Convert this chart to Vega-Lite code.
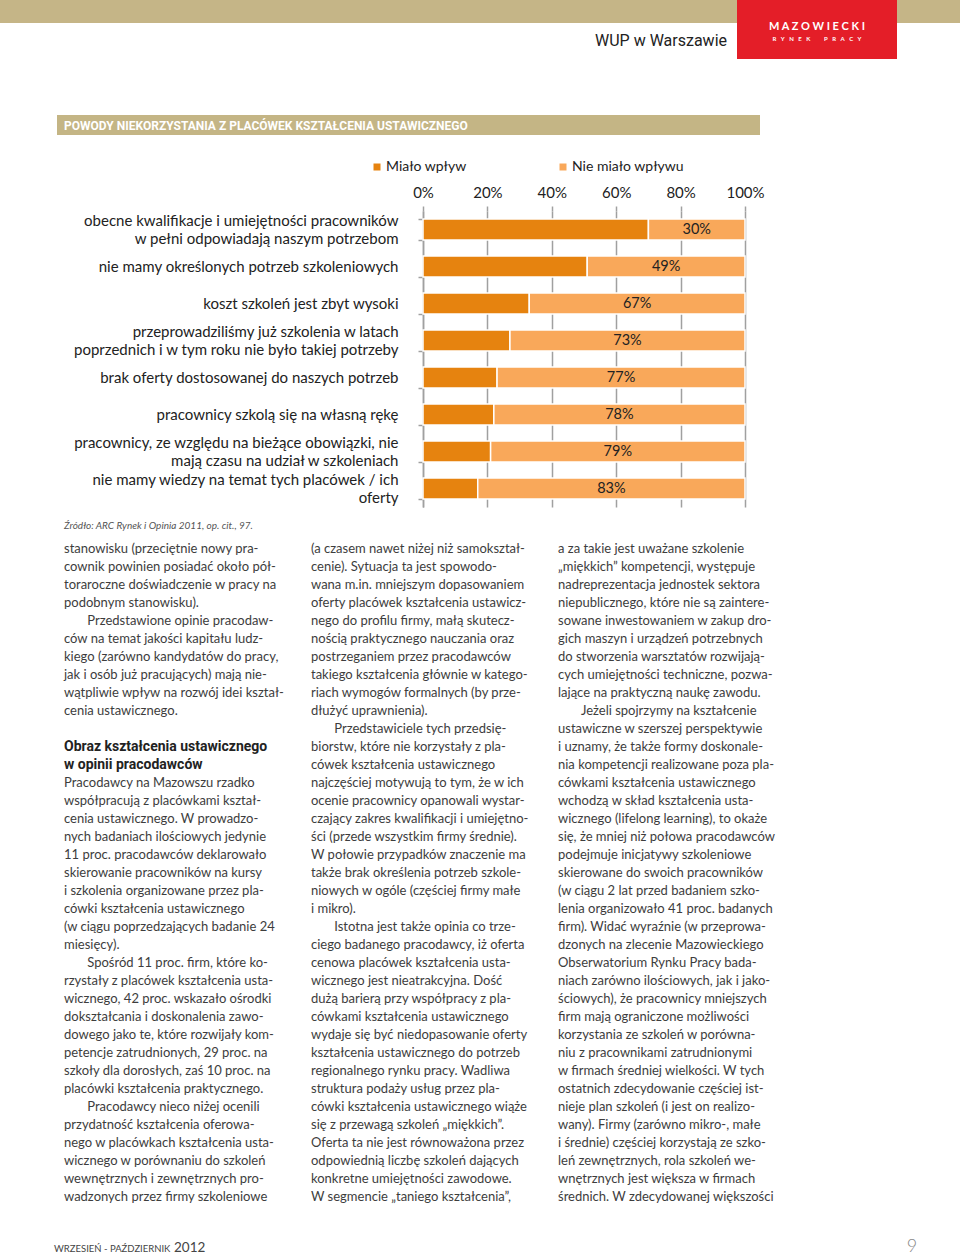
{
  "$schema": "https://vega.github.io/schema/vega-lite/v6.json",
  "padding": 0,
  "background": "#ffffff",
  "spacing": 0,
  "config": {"view": {"stroke": null}, "font": "Lato", "concat": {"spacing": 0}},
  "datasets": {
    "reasons": [
      {"reason": "obecne kwalifikacje i umiejętności pracowników|w pełni odpowiadają naszym potrzebom", "answer": "Miało wpływ", "share": 0.70},
      {"reason": "obecne kwalifikacje i umiejętności pracowników|w pełni odpowiadają naszym potrzebom", "answer": "Nie miało wpływu", "share": 0.30},
      {"reason": "nie mamy określonych potrzeb szkoleniowych", "answer": "Miało wpływ", "share": 0.51},
      {"reason": "nie mamy określonych potrzeb szkoleniowych", "answer": "Nie miało wpływu", "share": 0.49},
      {"reason": "koszt szkoleń jest zbyt wysoki", "answer": "Miało wpływ", "share": 0.33},
      {"reason": "koszt szkoleń jest zbyt wysoki", "answer": "Nie miało wpływu", "share": 0.67},
      {"reason": "przeprowadziliśmy już szkolenia w latach|poprzednich i w tym roku nie było takiej potrzeby", "answer": "Miało wpływ", "share": 0.27},
      {"reason": "przeprowadziliśmy już szkolenia w latach|poprzednich i w tym roku nie było takiej potrzeby", "answer": "Nie miało wpływu", "share": 0.73},
      {"reason": "brak oferty dostosowanej do naszych potrzeb", "answer": "Miało wpływ", "share": 0.23},
      {"reason": "brak oferty dostosowanej do naszych potrzeb", "answer": "Nie miało wpływu", "share": 0.77},
      {"reason": "pracownicy szkolą się na własną rękę", "answer": "Miało wpływ", "share": 0.22},
      {"reason": "pracownicy szkolą się na własną rękę", "answer": "Nie miało wpływu", "share": 0.78},
      {"reason": "pracownicy, ze względu na bieżące obowiązki, nie|mają czasu na udział w szkoleniach", "answer": "Miało wpływ", "share": 0.21},
      {"reason": "pracownicy, ze względu na bieżące obowiązki, nie|mają czasu na udział w szkoleniach", "answer": "Nie miało wpływu", "share": 0.79},
      {"reason": "nie mamy wiedzy na temat tych placówek / ich|oferty", "answer": "Miało wpływ", "share": 0.17},
      {"reason": "nie mamy wiedzy na temat tych placówek / ich|oferty", "answer": "Nie miało wpływu", "share": 0.83}
    ],
    "article": [
      {"column": 1, "line": 0, "kind": "body", "text": "stanowisku (przeciętnie nowy pra-"},
      {"column": 1, "line": 1, "kind": "body", "text": "cownik powinien posiadać około pół-"},
      {"column": 1, "line": 2, "kind": "body", "text": "toraroczne doświadczenie w pracy na"},
      {"column": 1, "line": 3, "kind": "body", "text": "podobnym stanowisku)."},
      {"column": 1, "line": 4, "kind": "body", "text": "\u200b\u00a0\u00a0\u00a0\u00a0\u00a0\u00a0\u00a0Przedstawione opinie pracodaw-"},
      {"column": 1, "line": 5, "kind": "body", "text": "ców na temat jakości kapitału ludz-"},
      {"column": 1, "line": 6, "kind": "body", "text": "kiego (zarówno kandydatów do pracy,"},
      {"column": 1, "line": 7, "kind": "body", "text": "jak i osób już pracujących) mają nie-"},
      {"column": 1, "line": 8, "kind": "body", "text": "wątpliwie wpływ na rozwój idei kształ-"},
      {"column": 1, "line": 9, "kind": "body", "text": "cenia ustawicznego."},
      {"column": 1, "line": 11, "kind": "heading", "text": "Obraz kształcenia ustawicznego"},
      {"column": 1, "line": 12, "kind": "heading", "text": "w opinii pracodawców"},
      {"column": 1, "line": 13, "kind": "body", "text": "Pracodawcy na Mazowszu rzadko"},
      {"column": 1, "line": 14, "kind": "body", "text": "współpracują z placówkami kształ-"},
      {"column": 1, "line": 15, "kind": "body", "text": "cenia ustawicznego. W prowadzo-"},
      {"column": 1, "line": 16, "kind": "body", "text": "nych badaniach ilościowych jedynie"},
      {"column": 1, "line": 17, "kind": "body", "text": "11 proc. pracodawców deklarowało"},
      {"column": 1, "line": 18, "kind": "body", "text": "skierowanie pracowników na kursy"},
      {"column": 1, "line": 19, "kind": "body", "text": "i szkolenia organizowane przez pla-"},
      {"column": 1, "line": 20, "kind": "body", "text": "cówki kształcenia ustawicznego"},
      {"column": 1, "line": 21, "kind": "body", "text": "(w ciągu poprzedzających badanie 24"},
      {"column": 1, "line": 22, "kind": "body", "text": "miesięcy)."},
      {"column": 1, "line": 23, "kind": "body", "text": "\u200b\u00a0\u00a0\u00a0\u00a0\u00a0\u00a0\u00a0Spośród 11 proc. firm, które ko-"},
      {"column": 1, "line": 24, "kind": "body", "text": "rzystały z placówek kształcenia usta-"},
      {"column": 1, "line": 25, "kind": "body", "text": "wicznego, 42 proc. wskazało ośrodki"},
      {"column": 1, "line": 26, "kind": "body", "text": "dokształcania i doskonalenia zawo-"},
      {"column": 1, "line": 27, "kind": "body", "text": "dowego jako te, które rozwijały kom-"},
      {"column": 1, "line": 28, "kind": "body", "text": "petencje zatrudnionych, 29 proc. na"},
      {"column": 1, "line": 29, "kind": "body", "text": "szkoły dla dorosłych, zaś 10 proc. na"},
      {"column": 1, "line": 30, "kind": "body", "text": "placówki kształcenia praktycznego."},
      {"column": 1, "line": 31, "kind": "body", "text": "\u200b\u00a0\u00a0\u00a0\u00a0\u00a0\u00a0\u00a0Pracodawcy nieco niżej ocenili"},
      {"column": 1, "line": 32, "kind": "body", "text": "przydatność kształcenia oferowa-"},
      {"column": 1, "line": 33, "kind": "body", "text": "nego w placówkach kształcenia usta-"},
      {"column": 1, "line": 34, "kind": "body", "text": "wicznego w porównaniu do szkoleń"},
      {"column": 1, "line": 35, "kind": "body", "text": "wewnętrznych i zewnętrznych pro-"},
      {"column": 1, "line": 36, "kind": "body", "text": "wadzonych przez firmy szkoleniowe"},
      {"column": 2, "line": 0, "kind": "body", "text": "(a czasem nawet niżej niż samokształ-"},
      {"column": 2, "line": 1, "kind": "body", "text": "cenie). Sytuacja ta jest spowodo-"},
      {"column": 2, "line": 2, "kind": "body", "text": "wana m.in. mniejszym dopasowaniem"},
      {"column": 2, "line": 3, "kind": "body", "text": "oferty placówek kształcenia ustawicz-"},
      {"column": 2, "line": 4, "kind": "body", "text": "nego do profilu firmy, małą skutecz-"},
      {"column": 2, "line": 5, "kind": "body", "text": "nością praktycznego nauczania oraz"},
      {"column": 2, "line": 6, "kind": "body", "text": "postrzeganiem przez pracodawców"},
      {"column": 2, "line": 7, "kind": "body", "text": "takiego kształcenia głównie w katego-"},
      {"column": 2, "line": 8, "kind": "body", "text": "riach wymogów formalnych (by prze-"},
      {"column": 2, "line": 9, "kind": "body", "text": "dłużyć uprawnienia)."},
      {"column": 2, "line": 10, "kind": "body", "text": "\u200b\u00a0\u00a0\u00a0\u00a0\u00a0\u00a0\u00a0Przedstawiciele tych przedsię-"},
      {"column": 2, "line": 11, "kind": "body", "text": "biorstw, które nie korzystały z pla-"},
      {"column": 2, "line": 12, "kind": "body", "text": "cówek kształcenia ustawicznego"},
      {"column": 2, "line": 13, "kind": "body", "text": "najczęściej motywują to tym, że w ich"},
      {"column": 2, "line": 14, "kind": "body", "text": "ocenie pracownicy opanowali wystar-"},
      {"column": 2, "line": 15, "kind": "body", "text": "czający zakres kwalifikacji i umiejętno-"},
      {"column": 2, "line": 16, "kind": "body", "text": "ści (przede wszystkim firmy średnie)."},
      {"column": 2, "line": 17, "kind": "body", "text": "W połowie przypadków znaczenie ma"},
      {"column": 2, "line": 18, "kind": "body", "text": "także brak określenia potrzeb szkole-"},
      {"column": 2, "line": 19, "kind": "body", "text": "niowych w ogóle (częściej firmy małe"},
      {"column": 2, "line": 20, "kind": "body", "text": "i mikro)."},
      {"column": 2, "line": 21, "kind": "body", "text": "\u200b\u00a0\u00a0\u00a0\u00a0\u00a0\u00a0\u00a0Istotna jest także opinia co trze-"},
      {"column": 2, "line": 22, "kind": "body", "text": "ciego badanego pracodawcy, iż oferta"},
      {"column": 2, "line": 23, "kind": "body", "text": "cenowa placówek kształcenia usta-"},
      {"column": 2, "line": 24, "kind": "body", "text": "wicznego jest nieatrakcyjna. Dość"},
      {"column": 2, "line": 25, "kind": "body", "text": "dużą barierą przy współpracy z pla-"},
      {"column": 2, "line": 26, "kind": "body", "text": "cówkami kształcenia ustawicznego"},
      {"column": 2, "line": 27, "kind": "body", "text": "wydaje się być niedopasowanie oferty"},
      {"column": 2, "line": 28, "kind": "body", "text": "kształcenia ustawicznego do potrzeb"},
      {"column": 2, "line": 29, "kind": "body", "text": "regionalnego rynku pracy. Wadliwa"},
      {"column": 2, "line": 30, "kind": "body", "text": "struktura podaży usług przez pla-"},
      {"column": 2, "line": 31, "kind": "body", "text": "cówki kształcenia ustawicznego wiąże"},
      {"column": 2, "line": 32, "kind": "body", "text": "się z przewagą szkoleń „miękkich”."},
      {"column": 2, "line": 33, "kind": "body", "text": "Oferta ta nie jest równoważona przez"},
      {"column": 2, "line": 34, "kind": "body", "text": "odpowiednią liczbę szkoleń dających"},
      {"column": 2, "line": 35, "kind": "body", "text": "konkretne umiejętności zawodowe."},
      {"column": 2, "line": 36, "kind": "body", "text": "W segmencie „taniego kształcenia”,"},
      {"column": 3, "line": 0, "kind": "body", "text": "a za takie jest uważane szkolenie"},
      {"column": 3, "line": 1, "kind": "body", "text": "„miękkich” kompetencji, występuje"},
      {"column": 3, "line": 2, "kind": "body", "text": "nadreprezentacja jednostek sektora"},
      {"column": 3, "line": 3, "kind": "body", "text": "niepublicznego, które nie są zaintere-"},
      {"column": 3, "line": 4, "kind": "body", "text": "sowane inwestowaniem w zakup dro-"},
      {"column": 3, "line": 5, "kind": "body", "text": "gich maszyn i urządzeń potrzebnych"},
      {"column": 3, "line": 6, "kind": "body", "text": "do stworzenia warsztatów rozwijają-"},
      {"column": 3, "line": 7, "kind": "body", "text": "cych umiejętności techniczne, pozwa-"},
      {"column": 3, "line": 8, "kind": "body", "text": "lające na praktyczną naukę zawodu."},
      {"column": 3, "line": 9, "kind": "body", "text": "\u200b\u00a0\u00a0\u00a0\u00a0\u00a0\u00a0\u00a0Jeżeli spojrzymy na kształcenie"},
      {"column": 3, "line": 10, "kind": "body", "text": "ustawiczne w szerszej perspektywie"},
      {"column": 3, "line": 11, "kind": "body", "text": "i uznamy, że także formy doskonale-"},
      {"column": 3, "line": 12, "kind": "body", "text": "nia kompetencji realizowane poza pla-"},
      {"column": 3, "line": 13, "kind": "body", "text": "cówkami kształcenia ustawicznego"},
      {"column": 3, "line": 14, "kind": "body", "text": "wchodzą w skład kształcenia usta-"},
      {"column": 3, "line": 15, "kind": "body", "text": "wicznego (lifelong learning), to okaże"},
      {"column": 3, "line": 16, "kind": "body", "text": "się, że mniej niż połowa pracodawców"},
      {"column": 3, "line": 17, "kind": "body", "text": "podejmuje inicjatywy szkoleniowe"},
      {"column": 3, "line": 18, "kind": "body", "text": "skierowane do swoich pracowników"},
      {"column": 3, "line": 19, "kind": "body", "text": "(w ciągu 2 lat przed badaniem szko-"},
      {"column": 3, "line": 20, "kind": "body", "text": "lenia organizowało 41 proc. badanych"},
      {"column": 3, "line": 21, "kind": "body", "text": "firm). Widać wyraźnie (w przeprowa-"},
      {"column": 3, "line": 22, "kind": "body", "text": "dzonych na zlecenie Mazowieckiego"},
      {"column": 3, "line": 23, "kind": "body", "text": "Obserwatorium Rynku Pracy bada-"},
      {"column": 3, "line": 24, "kind": "body", "text": "niach zarówno ilościowych, jak i jako-"},
      {"column": 3, "line": 25, "kind": "body", "text": "ściowych), że pracownicy mniejszych"},
      {"column": 3, "line": 26, "kind": "body", "text": "firm mają ograniczone możliwości"},
      {"column": 3, "line": 27, "kind": "body", "text": "korzystania ze szkoleń w porówna-"},
      {"column": 3, "line": 28, "kind": "body", "text": "niu z pracownikami zatrudnionymi"},
      {"column": 3, "line": 29, "kind": "body", "text": "w firmach średniej wielkości. W tych"},
      {"column": 3, "line": 30, "kind": "body", "text": "ostatnich zdecydowanie częściej ist-"},
      {"column": 3, "line": 31, "kind": "body", "text": "nieje plan szkoleń (i jest on realizo-"},
      {"column": 3, "line": 32, "kind": "body", "text": "wany). Firmy (zarówno mikro-, małe"},
      {"column": 3, "line": 33, "kind": "body", "text": "i średnie) częściej korzystają ze szko-"},
      {"column": 3, "line": 34, "kind": "body", "text": "leń zewnętrznych, rola szkoleń we-"},
      {"column": 3, "line": 35, "kind": "body", "text": "wnętrznych jest większa w firmach"},
      {"column": 3, "line": 36, "kind": "body", "text": "średnich. W zdecydowanej większości"}
    ]
  },
  "vconcat": [
    {
      "spacing": 0,
      "hconcat": [
        {
          "spacing": 0,
          "vconcat": [
            {"width": 737, "height": 23, "view": {"fill": "#C5B587"}, "data": {"values": [{}]}, "mark": {"type": "text"}, "encoding": {"text": {"value": ""}}},
            {"width": 737, "height": 36, "data": {"values": [{"label": "WUP w Warszawie"}]},
             "mark": {"type": "text", "align": "right", "dx": -10, "font": "Roboto", "fontSize": 16, "color": "#222222"},
             "encoding": {"x": {"value": "width"}, "text": {"field": "label"}}}
          ]
        },
        {
          "width": 160, "height": 59, "view": {"fill": "#E41E28"},
          "data": {"values": [{"line": "M A Z O W I E C K I", "part": "top"}, {"line": "R\u2003Y\u2003N\u2003E\u2003K\u2003\u2003\u2003P\u2003R\u2003A\u2003C\u2003Y", "part": "bottom"}]},
          "layer": [
            {"transform": [{"filter": "datum.part === 'top'"}], "mark": {"type": "text", "dy": -3, "font": "Lato", "fontSize": 11, "fontWeight": "bold", "color": "#ffffff"}, "encoding": {"text": {"field": "line"}}},
            {"transform": [{"filter": "datum.part === 'bottom'"}], "mark": {"type": "text", "dy": 9, "font": "Lato", "fontSize": 6, "fontWeight": "bold", "color": "#ffffff"}, "encoding": {"text": {"field": "line"}}}
          ]
        },
        {"width": 63, "height": 23, "view": {"fill": "#C5B587"}, "data": {"values": [{}]}, "mark": {"type": "text"}, "encoding": {"text": {"value": ""}}}
      ]
    },
    {"width": 960, "height": 56, "data": {"values": [{}]}, "mark": {"type": "text"}, "encoding": {"text": {"value": ""}}},
    {
      "spacing": 0,
      "hconcat": [
        {"width": 57, "height": 20, "data": {"values": [{}]}, "mark": {"type": "text"}, "encoding": {"text": {"value": ""}}},
        {"width": 703, "height": 20, "view": {"fill": "#C4B585"},
         "data": {"values": [{"title": "POWODY NIEKORZYSTANIA Z PLACÓWEK KSZTAŁCENIA USTAWICZNEGO"}]},
         "mark": {"type": "text", "align": "left", "dx": 7, "dy": 1, "font": "Roboto", "fontSize": 12, "fontWeight": "bold", "color": "#ffffff"},
         "encoding": {"x": {"value": 0}, "text": {"field": "title"}}}
      ]
    },
    {
      "width": 960, "height": 365,
      "data": {"name": "reasons"},
      "layer": [
        {
          "mark": {"type": "bar", "stroke": "#ffffff", "strokeWidth": 1.5},
          "encoding": {
            "y": {"field": "reason", "type": "nominal", "sort": null,
                  "scale": {"range": [61, 357], "paddingInner": 0.43, "paddingOuter": 0.215},
                  "axis": {"title": null, "offset": -423, "labelExpr": "indexof(datum.label, '|') >= 0 ? [split(datum.label, '|')[0], '\u200b', split(datum.label, '|')[1]] : ['', datum.label]", "labelFont": "Lato", "labelFontSize": 15, "labelColor": "#222222", "labelBaseline": "bottom", "labelLineHeight": 9, "labelOffset": -1, "labelPadding": 20, "labelLimit": 400,
                           "tickSize": 5, "tickBand": "extent", "tickColor": "#A0A0A0", "tickWidth": 1.5, "domainColor": "#A0A0A0", "domainWidth": 1.5, "grid": false}},
            "x": {"field": "share", "type": "quantitative", "stack": "zero",
                  "scale": {"domain": [0, 1], "range": [423, 745], "nice": false},
                  "axis": {"orient": "top", "offset": -61, "title": null, "format": ".0%", "values": [0, 0.2, 0.4, 0.6, 0.8, 1], "domain": false, "grid": true, "gridColor": "#A0A0A0", "gridWidth": 1.5, "tickSize": 5, "tickColor": "#A0A0A0", "tickWidth": 1.5, "labelFont": "Lato", "labelFontSize": 15, "labelColor": "#222222", "labelPadding": 6, "labelFlush": false}},
            "color": {"field": "answer", "type": "nominal",
                      "scale": {"domain": ["Miało wpływ", "Nie miało wpływu"], "range": ["#E6830F", "#F9A85A"]},
                      "legend": {"title": null, "orient": "none", "legendX": 370, "legendY": 160, "padding": 0, "direction": "horizontal", "symbolType": "square", "symbolSize": 49, "symbolStrokeWidth": 0, "labelFont": "Lato", "labelFontSize": 14, "labelColor": "#222222", "columnPadding": 89, "labelOffset": 2}},
            "order": {"field": "answer", "sort": "ascending"}
          }
        },
        {
          "transform": [{"filter": "datum.answer === 'Nie miało wpływu'"}],
          "mark": {"type": "text", "font": "Lato", "fontSize": 14.5, "color": "#222222"},
          "encoding": {
            "y": {"field": "reason", "type": "nominal", "sort": null},
            "x": {"field": "share", "type": "quantitative", "scale": {"domain": [0, 2], "range": [423, 745], "reverse": true, "nice": false, "zero": false}, "axis": null},
            "text": {"field": "share", "type": "quantitative", "format": ".0%"}
          }
        }
      ],
      "resolve": {"scale": {"x": "independent"}}
    },
    {
      "spacing": 0,
      "hconcat": [
        {"width": 64, "height": 25, "data": {"values": [{}]}, "mark": {"type": "text"}, "encoding": {"text": {"value": ""}}},
        {"width": 400, "height": 25, "data": {"values": [{"note": "Źródło: ARC Rynek i Opinia 2011, op. cit., 97."}]},
         "mark": {"type": "text", "align": "left", "dy": -1.5, "font": "Lato", "fontSize": 10, "fontStyle": "italic", "color": "#555555"},
         "encoding": {"x": {"value": 0}, "text": {"field": "note"}}}
      ]
    },
    {
      "width": 960, "height": 666,
      "data": {"name": "article"},
      "encoding": {
        "x": {"field": "column", "type": "ordinal", "scale": {"type": "point", "padding": 0, "domain": [1, 2, 3], "range": [64, 558]}, "axis": null},
        "y": {"field": "line", "type": "quantitative", "scale": {"domain": [0, 36], "range": [9, 657], "nice": false, "zero": false}, "axis": null},
        "text": {"field": "text"}
      },
      "layer": [
        {"transform": [{"filter": "datum.kind === 'body'"}], "mark": {"type": "text", "align": "left", "font": "Lato", "fontSize": 13, "color": "#3d3d3d"}},
        {"transform": [{"filter": "datum.kind === 'heading'"}], "mark": {"type": "text", "align": "left", "font": "Roboto", "fontSize": 14, "fontWeight": "bold", "color": "#222222"}}
      ]
    },
    {"width": 960, "height": 31, "data": {"values": [{}]}, "mark": {"type": "text"}, "encoding": {"text": {"value": ""}}},
    {
      "spacing": 0,
      "hconcat": [
        {"width": 54, "height": 17, "data": {"values": [{}]}, "mark": {"type": "text"}, "encoding": {"text": {"value": ""}}},
        {"width": 120, "height": 17, "data": {"values": [{"issue": "WRZESIEŃ - PAŹDZIERNIK"}]},
         "mark": {"type": "text", "align": "left", "dy": 2, "font": "Lato", "fontSize": 9.5, "color": "#444444"},
         "encoding": {"x": {"value": 0}, "text": {"field": "issue"}}},
        {"width": 732, "height": 17, "data": {"values": [{"year": "2012"}]},
         "mark": {"type": "text", "align": "left", "dy": 1, "font": "Lato", "fontSize": 13.5, "color": "#444444"},
         "encoding": {"x": {"value": 0}, "text": {"field": "year"}}},
        {"width": 12, "height": 17, "data": {"values": [{"page": "9"}]},
         "mark": {"type": "text", "font": "Lato", "fontSize": 18, "fontWeight": 300, "color": "#888888"},
         "encoding": {"text": {"field": "page"}}}
      ]
    }
  ]
}
